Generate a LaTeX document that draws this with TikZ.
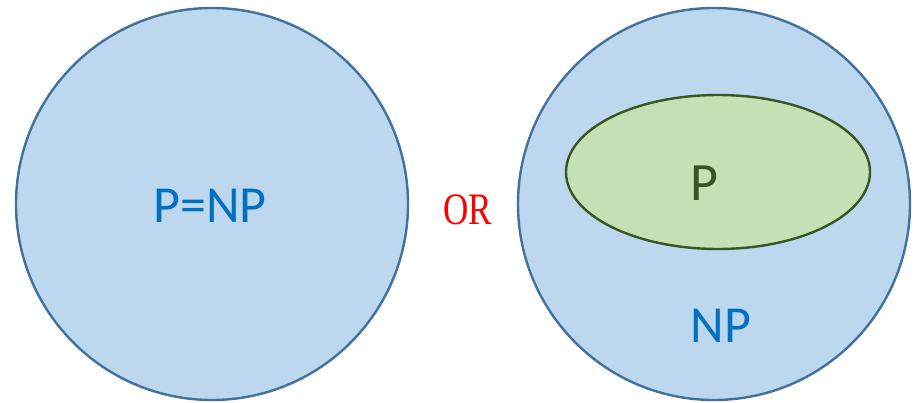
\documentclass[tikz,border=0pt]{standalone}
\usepackage{fontspec}
\setmainfont{Carlito}
\newfontfamily\orfont{Liberation Serif}
\definecolor{circfill}{HTML}{BDD7EE}
\definecolor{circline}{HTML}{41719C}
\definecolor{ellfill}{HTML}{C5E0B4}
\definecolor{ellline}{HTML}{385723}
\definecolor{txtblue}{HTML}{0070C0}
\definecolor{txtgreen}{HTML}{375623}
\begin{document}
\begin{tikzpicture}[x=1pt,y=-1pt,
  setcirc/.style={fill=circfill,draw=circline,line width=2.4pt},
  setell/.style={fill=ellfill,draw=ellline,line width=2.4pt},
  bluelabel/.style={text=txtblue,font=\fontsize{52}{56}\selectfont}]
\useasboundingbox (0,0) rectangle (918,402);
\draw[setcirc] (212,204) circle (196);
\node[bluelabel] (pnp) at (210,206) {P=NP};
\node[text=red,xscale=0.78,font=\orfont\fontsize{45}{50}\selectfont] (or) at (468,210) {OR};
\draw[setcirc] (714,204) circle (196);
\draw[setell] (718,172) ellipse (152 and 77);
\node[text=txtgreen,font=\fontsize{54}{58}\selectfont] (p) at (704,183) {P};
\node[bluelabel] (np) at (721,326) {NP};
\end{tikzpicture}
\end{document}
